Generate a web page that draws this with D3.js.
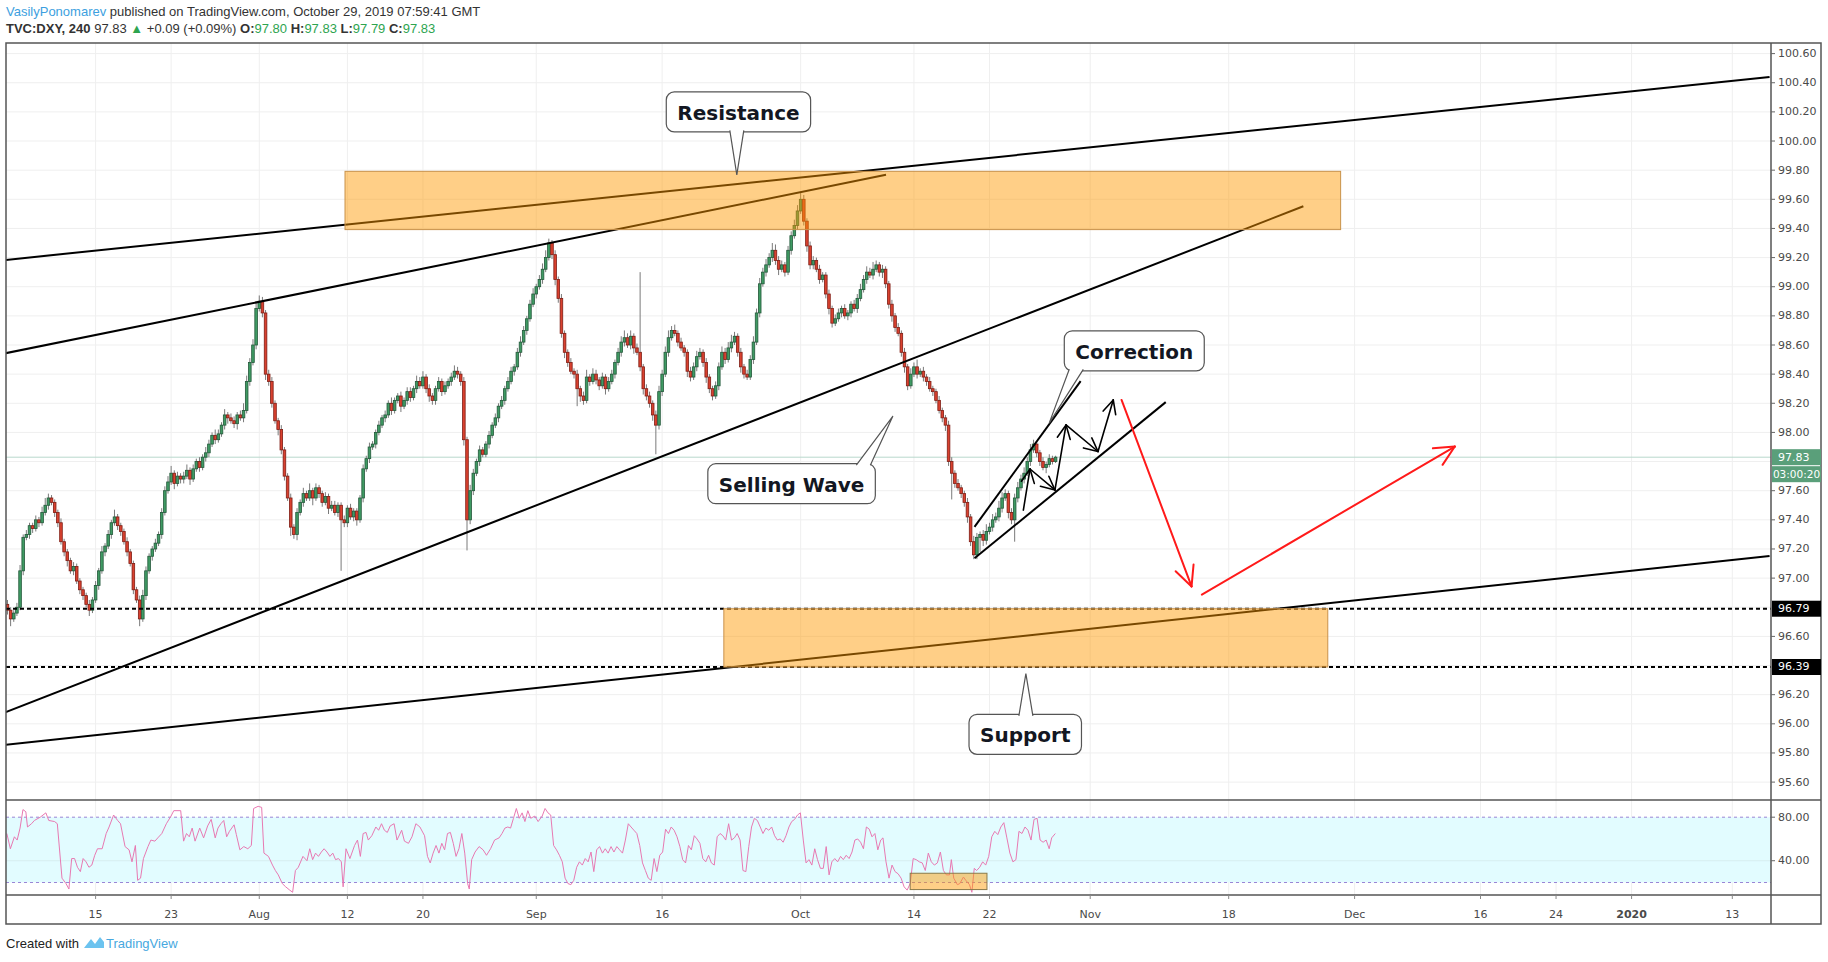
<!DOCTYPE html>
<html><head><meta charset="utf-8">
<script src="https://cdn.jsdelivr.net/npm/d3@7"></script>
<style>
html,body{margin:0;padding:0;background:#fff;}
svg{display:block;}
</style></head><body>
<svg id="c" width="1828" height="962"></svg>
<script>
// ---------------- DATA ----------------
const dayStart = -7;          // first bar: Jul 4 2019 (weekday index relative to Jul 15 2019)
const barsPerDay = 4;
const firstOpen = 96.82;
const closes = [
96.78,96.72,96.76,96.80, 97.05,97.28,97.30,97.36, 97.34,97.40,97.38,97.45, 97.50,97.55,97.52,97.45,
97.38,97.25,97.18,97.12, 97.05,97.08,96.98,96.92, 96.88,96.82,96.78,96.85,
96.95,97.05,97.18,97.22, 97.30,97.38,97.42,97.36, 97.32,97.25,97.18,97.10, 96.92,96.85,96.72,96.88, 97.05,97.15,97.20,97.24,
97.30,97.45,97.60,97.66, 97.72,97.65,97.70,97.68, 97.70,97.74,97.68,97.75, 97.80,97.76,97.83,97.86, 97.92,97.98,97.95,97.99,
98.05,98.12,98.10,98.08, 98.06,98.12,98.10,98.15, 98.35,98.48,98.60,98.85, 98.90,98.82,98.40,98.35, 98.20,98.08,98.02,97.88,
97.70,97.55,97.35,97.30, 97.45,97.52,97.58,97.55, 97.60,97.55,97.62,97.58, 97.52,97.56,97.48,97.50, 97.45,97.50,97.40,97.38,
97.48,97.42,97.46,97.40, 97.55,97.75,97.82,97.90, 97.92,98.00,98.05,98.10, 98.12,98.20,98.15,98.22, 98.25,98.18,98.22,98.28,
98.24,98.30,98.35,98.32, 98.38,98.30,98.25,98.22, 98.30,98.35,98.28,98.32, 98.35,98.38,98.42,98.40, 98.35,97.95,97.40,97.60,
97.72,97.80,97.88,97.85, 97.92,97.98,98.05,98.10, 98.18,98.22,98.30,98.35, 98.42,98.45,98.55,98.62, 98.70,98.78,98.88,98.95,
99.00,99.05,99.12,99.20, 99.30,99.22,99.05,98.92, 98.68,98.55,98.48,98.42, 98.40,98.30,98.25,98.22, 98.38,98.35,98.40,98.36,
98.32,98.38,98.30,98.35, 98.40,98.48,98.55,98.62, 98.65,98.60,98.66,98.58, 98.55,98.45,98.30,98.25, 98.20,98.12,98.05,98.28,
98.40,98.55,98.65,98.70, 98.68,98.62,98.58,98.55, 98.42,98.38,98.45,98.52, 98.55,98.48,98.38,98.30, 98.25,98.32,98.45,98.55,
98.50,98.58,98.62,98.66, 98.55,98.45,98.40,98.38, 98.50,98.62,98.82,99.02, 99.10,99.15,99.20,99.25, 99.18,99.12,99.15,99.10,
99.25,99.35,99.42,99.52, 99.60,99.45,99.28,99.15, 99.18,99.12,99.05,99.08, 98.95,98.85,98.75,98.78, 98.82,98.85,98.80,98.82,
98.88,98.85,98.92,98.98, 99.05,99.10,99.08,99.12, 99.15,99.10,99.12,99.02, 98.88,98.80,98.72,98.68, 98.55,98.45,98.32,98.40,
98.45,98.40,98.42,98.38, 98.35,98.30,98.28,98.22, 98.15,98.10,98.05,97.80, 97.72,97.65,97.62,97.58, 97.52,97.42,97.25,97.16,
97.28,97.30,97.26,97.32, 97.35,97.40,97.42,97.48, 97.55,97.58,97.45,97.40, 97.55,97.62,97.68,97.72, 97.80,97.88,97.92,97.86,
97.80,97.76,97.78,97.82, 97.80,97.83
];
// upper / lower wick extension beyond the body, in hundredths
const wickUp = [
3,2,2,3, 4,2,3,2, 2,3,2,4, 5,3,2,2, 2,3,2,2, 2,3,2,2, 2,2,3,2,
3,2,4,2, 3,2,5,2, 2,2,3,2, 2,2,3,4, 3,2,2,3,
2,3,3,4, 5,2,3,2, 3,4,2,3, 2,3,2,4, 3,2,4,3,
2,4,2,3, 3,2,3,5, 4,3,4,5, 4,3,2,3, 3,2,2,3,
2,2,3,2, 3,2,4,2, 5,2,3,2, 2,3,2,3, 3,2,2,3,
2,3,2,2, 2,3,2,3, 2,2,3,2, 3,2,4,2, 2,3,2,3,
3,2,4,3, 4,2,3,2, 2,3,2,3, 2,3,4,3, 2,3,2,4,
3,2,3,2, 2,3,2,3, 2,3,2,3, 3,2,3,4, 3,2,3,4,
2,3,4,5, 3,2,3,2, 3,2,2,3, 2,3,2,3, 5,2,4,3,
2,3,2,3, 3,2,3,4, 5,3,4,2, 3,55,2,3, 3,2,3,4,
3,4,5,3, 4,2,3,2, 2,3,3,4, 3,2,3,2, 2,3,3,4,
3,4,5,3, 2,3,2,3, 3,4,3,4, 3,4,3,5, 4,3,3,2,
3,3,4,4, 5,3,2,3, 3,2,3,2, 2,3,2,3, 3,2,3,2,
2,3,3,4, 3,4,3,5, 3,2,3,2, 2,3,2,3, 2,3,2,4,
3,5,2,3, 2,3,2,2, 3,2,2,3, 3,2,3,2, 2,3,2,4,
3,2,3,5, 3,4,3,5, 4,3,2,3, 3,4,3,4, 3,4,3,2,
2,3,2,3, 2,1
];
const wickDown = [
3,5,2,2, 2,3,2,3, 3,2,3,2, 2,3,2,3, 3,2,3,4, 2,3,2,3, 3,2,4,2,
2,3,2,3, 2,3,2,3, 3,2,3,2, 3,2,5,2, 3,2,3,2,
2,3,2,2, 2,4,2,3, 3,2,4,2, 2,3,2,3, 3,2,3,2,
2,3,4,2, 3,4,2,3, 2,3,2,3, 2,3,4,3, 3,2,4,3,
3,2,6,3, 4,2,3,2, 2,5,2,3, 3,2,4,2, 2,3,35,3,
3,2,3,4, 2,3,2,3, 2,3,2,2, 3,2,3,2, 2,4,2,3,
3,2,3,2, 2,3,4,3, 3,2,3,2, 2,3,2,3, 3,4,21,3,
3,2,3,2, 2,3,2,2, 3,2,3,2, 2,3,2,3, 2,3,2,2,
3,2,3,2, 2,3,4,3, 3,4,3,2, 3,12,4,3, 2,3,2,3,
3,2,4,2, 2,3,2,3, 3,2,3,4, 2,3,4,3, 3,4,20,3,
3,2,3,2, 2,3,2,3, 4,3,2,3, 2,3,4,3, 3,2,3,2,
3,2,3,2, 3,4,3,2, 2,3,2,3, 2,3,2,3, 3,4,2,3,
2,3,2,3, 2,3,4,3, 3,2,3,2, 3,4,3,2, 2,3,2,3,
3,2,3,2, 2,3,2,3, 2,3,4,3, 3,4,3,2, 3,4,3,2,
2,3,2,3, 3,2,3,2, 2,3,4,3, 18,3,2,3, 3,4,3,3,
3,10,4,3, 2,3,2,3, 3,2,4,3, 15,3,2,3, 2,3,2,3,
3,2,4,2, 2,1
];
// RSI(14): [weekday index, value]
const rsiPoints = [
[-7.05,65],[-6.77,51],[-6.45,62],[-6.23,59],[-6.00,70],[-5.77,87],[-5.54,85],[-5.41,71],[-5.09,74],[-4.86,77],
[-4.40,80],[-3.95,84],[-3.72,77],[-3.26,76],[-3.04,74],[-2.67,24],[-2.35,19],[-2.12,14],[-1.90,42],[-1.67,42],
[-1.44,34],[-1.21,30],[-0.99,42],[-0.76,39],[-0.53,34],[-0.30,36],[-0.07,45],[0.15,51],[0.52,51],[0.84,65],
[1.07,71],[1.43,82],[1.75,77],[1.98,74],[2.34,53],[2.66,50],[2.89,39],[3.16,54],[3.34,22],[3.57,24],
[3.80,42],[4.16,53],[4.39,59],[4.71,58],[4.94,61],[5.26,65],[5.62,74],[5.99,81],[6.21,86],[6.76,86],
[6.99,58],[7.22,65],[7.44,62],[7.67,70],[7.90,58],[8.27,70],[8.58,61],[8.90,72],[9.18,78],[9.50,61],
[9.72,70],[9.95,74],[10.18,77],[10.41,62],[10.63,67],[11.00,73],[11.18,64],[11.46,50],[11.77,53],[12.09,51],
[12.37,54],[12.55,88],[12.91,90],[13.19,89],[13.37,47],[13.73,44],[14.05,36],[14.28,31],[14.51,27],[14.83,19],
[15.10,16],[15.42,13],[15.65,11],[15.87,31],[16.10,34],[16.47,44],[16.79,40],[17.01,51],[17.24,41],[17.47,47],
[17.70,44],[17.93,48],[18.15,51],[18.38,48],[18.61,44],[18.84,47],[19.06,41],[19.29,42],[19.52,39],[19.66,16],
[19.89,51],[20.20,42],[20.57,54],[20.80,59],[21.03,44],[21.25,65],[21.48,66],[21.66,59],[21.94,63],[22.26,71],
[22.48,68],[22.71,74],[22.94,68],[23.17,66],[23.40,72],[23.71,74],[23.94,59],[24.31,68],[24.53,58],[24.85,56],
[25.13,62],[25.44,74],[25.76,71],[26.13,63],[26.36,44],[26.58,38],[26.81,47],[27.04,54],[27.27,47],[27.50,56],
[27.72,50],[27.95,65],[28.18,66],[28.41,56],[28.63,44],[28.86,51],[29.09,65],[29.32,47],[29.55,19],[29.68,14],
[29.87,41],[30.14,48],[30.46,53],[30.78,50],[31.05,45],[31.37,51],[31.69,59],[32.05,61],[32.28,65],[32.51,70],
[32.74,71],[32.96,70],[33.19,79],[33.42,88],[33.65,79],[33.88,84],[34.10,76],[34.33,86],[34.56,79],[34.88,81],
[35.15,76],[35.47,81],[35.70,88],[35.93,84],[36.15,82],[36.38,54],[36.61,50],[36.84,45],[37.07,39],[37.29,24],
[37.52,19],[37.75,18],[37.98,22],[38.21,34],[38.43,39],[38.66,36],[38.89,42],[39.12,39],[39.35,48],[39.57,30],
[39.80,50],[40.03,53],[40.26,47],[40.48,51],[40.71,47],[40.94,53],[41.17,48],[41.40,53],[41.62,50],[41.85,47],
[42.08,59],[42.31,74],[42.53,71],[42.76,68],[42.99,65],[43.22,54],[43.44,38],[43.67,31],[43.90,24],[44.13,22],
[44.36,42],[44.58,30],[44.81,45],[45.04,48],[45.27,69],[45.50,65],[45.72,71],[45.95,68],[46.18,62],[46.41,53],
[46.63,41],[46.86,38],[47.09,54],[47.32,50],[47.55,63],[47.77,60],[48.00,56],[48.23,42],[48.46,39],[48.69,45],
[48.91,38],[49.14,36],[49.37,62],[49.60,65],[49.82,63],[50.05,59],[50.28,74],[50.51,59],[50.74,61],[50.96,65],
[51.19,59],[51.42,31],[51.65,30],[51.88,53],[52.10,71],[52.33,79],[52.56,77],[52.79,71],[53.01,65],[53.24,70],
[53.47,68],[53.70,71],[53.93,63],[54.15,59],[54.38,60],[54.61,57],[54.84,63],[55.07,71],[55.29,76],[55.52,78],
[55.75,82],[55.98,84],[56.21,59],[56.43,38],[56.66,41],[56.89,36],[57.12,51],[57.34,41],[57.57,33],[57.80,33],
[58.03,53],[58.26,27],[58.48,39],[58.71,42],[58.94,39],[59.17,44],[59.39,41],[59.62,45],[59.85,42],[60.08,48],
[60.31,59],[60.53,60],[60.76,57],[60.99,51],[61.22,71],[61.45,69],[61.67,62],[61.90,65],[62.13,50],[62.36,59],
[62.54,61],[62.78,39],[63.02,24],[63.26,36],[63.50,30],[63.74,28],[63.98,24],[64.22,16],[64.46,13],[64.70,19],
[64.94,42],[65.18,41],[65.42,39],[65.66,38],[65.90,31],[66.14,47],[66.38,39],[66.62,36],[66.86,38],[67.10,48],
[67.34,31],[67.58,27],[67.82,27],[67.97,41],[68.16,24],[68.45,18],[68.64,19],[68.93,25],[69.12,22],[69.41,18],
[69.60,11],[69.79,33],[69.98,31],[70.22,34],[70.46,39],[70.70,36],[70.94,44],[71.18,62],[71.42,67],[71.66,64],
[71.90,71],[72.14,75],[72.38,61],[72.62,47],[72.86,39],[73.10,41],[73.34,67],[73.58,65],[73.82,71],[74.06,68],
[74.30,59],[74.54,78],[74.78,79],[75.02,59],[75.26,57],[75.50,59],[75.74,51],[75.94,61],[76.23,65]
];
const lastPrice = 97.83;
const countdown = "03:00:20";
const priceTicks = [100.6,100.4,100.2,100.0,99.8,99.6,99.4,99.2,99.0,98.8,98.6,98.4,98.2,98.0,97.6,97.4,97.2,97.0,96.6,96.2,96.0,95.8,95.6];
const gridPrices = [100.6,100.4,100.2,100.0,99.8,99.6,99.4,99.2,99.0,98.8,98.6,98.4,98.2,98.0,97.8,97.6,97.4,97.2,97.0,96.8,96.6,96.4,96.2,96.0,95.8,95.6];
const levelLines = [96.79, 96.39];
const tickDates = ["2019-07-15","2019-07-23","2019-08-01","2019-08-12","2019-08-20","2019-09-02","2019-09-16","2019-10-01","2019-10-14","2019-10-22","2019-11-01","2019-11-18","2019-12-02","2019-12-16","2019-12-24","2020-01-01","2020-01-13"];
const tickLabels = ["15","23","Aug","12","20","Sep","16","Oct","14","22","Nov","18","Dec","16","24","2020","13"];
const rsiTicks = [80, 40];
const rsiBand = [20, 80];

// drawings in (weekday index, price)
const trendLines = [
  [[-7.13, 99.184],[132.96,100.44]],
  [[-7.13, 98.544],[62.78, 99.768]],
  [[-7.13, 96.08],[95.93, 99.552]],
  [[-7.13, 95.856],[132.96, 97.152]],
  [[69.81, 97.352],[78.24, 98.352]],
  [[69.81, 97.136],[85.0, 98.208]]
];
const zones = [
  {d0:19.81, d1:98.89, p0:99.392, p1:99.792},
  {d0:49.9,  d1:97.87, p0:96.39,  p1:96.79}
];
const blackArrows = [
  [[73.69,97.467],[74.22,97.749]],
  [[74.22,97.749],[76.20,97.605]],
  [[76.20,97.605],[77.08,98.051]],
  [[77.08,98.051],[79.62,97.869]],
  [[79.62,97.869],[80.83,98.223]]
];
const redArrows = [
  [[81.49,98.223],[87.05,96.943]],
  [[87.87,96.887],[107.96,97.903]]
];
const callouts = [
  {text:"Resistance",   cd:51.06, cp:100.2,  td:50.93, tp:99.768},
  {text:"Correction",   cd:82.5,  cp:98.56,  td:75.74, tp:98.064},
  {text:"Selling Wave", cd:55.28, cp:97.648, td:63.33, tp:98.112},
  {text:"Support",      cd:73.84, cp:95.928, td:73.89, tp:96.344}
];
const rsiZone = {d0:64.7, d1:70.8, r0:13.5, r1:28.5};

// ---------------- LAYOUT ----------------
const paneL = 6, paneR = 1771, mainT = 43, mainB = 800, rsiB = 895, axisB = 924, outerR = 1821;
const svg = d3.select("#c");
const x = d3.scaleLinear().domain([0,130]).range([95.6,1732.3]);
const y = d3.scaleLinear().domain([95.6,100.6]).range([782.1,53.6]);
const yR = d3.scaleLinear().domain([20,80]).range([882.5,817.2]);

function wdIndex(s){
  const d = Date.parse(s+"T00:00:00Z"), base = Date.UTC(2019,6,15);
  const days = Math.round((d-base)/864e5), w = Math.floor(days/7), r = days - w*7;
  return w*5 + Math.min(r,5);
}

const defs = svg.append("defs");
defs.append("clipPath").attr("id","cm").append("rect").attr("x",paneL).attr("y",mainT).attr("width",paneR-paneL).attr("height",mainB-mainT);
defs.append("clipPath").attr("id","cr").append("rect").attr("x",paneL).attr("y",mainB).attr("width",paneR-paneL).attr("height",rsiB-mainB);

// grid
const grid = svg.append("g");
grid.selectAll(".hg").data(gridPrices).enter().append("line")
  .attr("x1",paneL).attr("x2",paneR).attr("y1",d=>y(d)).attr("y2",d=>y(d))
  .attr("stroke","#efefef").attr("stroke-width",1);
tickDates.forEach(d=>{
  const xx = x(wdIndex(d));
  grid.append("line").attr("x1",xx).attr("x2",xx).attr("y1",mainT).attr("y2",rsiB).attr("stroke","#efefef");
});

// RSI background
const gR = svg.append("g").attr("clip-path","url(#cr)");
gR.append("rect").attr("x",paneL).attr("width",paneR-paneL).attr("y",yR(rsiBand[1])).attr("height",yR(rsiBand[0])-yR(rsiBand[1])).attr("fill","#e2fcff");
gR.append("line").attr("x1",paneL).attr("x2",paneR).attr("y1",yR(40)).attr("y2",yR(40)).attr("stroke","#d6eef0");
rsiBand.forEach(v=>{
  gR.append("line").attr("x1",paneL).attr("x2",paneR).attr("y1",yR(v)).attr("y2",yR(v))
    .attr("stroke","#9a86d6").attr("stroke-dasharray","3,3").attr("stroke-width",1);
});

// candles
const bars = closes.map((c,i)=>{
  const o = i===0 ? firstOpen : closes[i-1];
  const t = dayStart + Math.floor(i/barsPerDay) + (i%barsPerDay)/barsPerDay;
  return {t, o, c, h: Math.max(o,c)+wickUp[i]/100, l: Math.min(o,c)-wickDown[i]/100};
});
const gM = svg.append("g").attr("clip-path","url(#cm)");
gM.append("line").attr("x1",paneL).attr("x2",paneR).attr("y1",y(lastPrice)).attr("y2",y(lastPrice)).attr("stroke","#b9d8cc").attr("stroke-width",1);
const gc = gM.append("g");
gc.selectAll(".w").data(bars).enter().append("line")
  .attr("x1",d=>x(d.t)).attr("x2",d=>x(d.t)).attr("y1",d=>y(d.h)).attr("y2",d=>y(d.l))
  .attr("stroke","#7a7a7a").attr("stroke-width",1);
gc.selectAll(".b").data(bars).enter().append("rect")
  .attr("x",d=>x(d.t)-1.3).attr("width",2.6)
  .attr("y",d=>y(Math.max(d.o,d.c)))
  .attr("height",d=>Math.max(1,Math.abs(y(d.o)-y(d.c))))
  .attr("fill",d=>d.c>=d.o?"#3f9a63":"#d9412f")
  .attr("stroke",d=>d.c>=d.o?"#23583a":"#7e1d14").attr("stroke-width",0.8);

const line = d3.line().x(d=>x(d[0])).y(d=>y(d[1]));
gM.selectAll(".tl").data(trendLines).enter().append("path").attr("d",line)
  .attr("stroke","#000").attr("stroke-width",2).attr("fill","none");
levelLines.forEach(v=>{
  gM.append("line").attr("x1",paneL).attr("x2",paneR).attr("y1",y(v)).attr("y2",y(v))
    .attr("stroke","#000").attr("stroke-width",2).attr("stroke-dasharray","4,3");
});
gM.selectAll(".z").data(zones).enter().append("rect")
  .attr("x",d=>x(d.d0)).attr("width",d=>x(d.d1)-x(d.d0))
  .attr("y",d=>y(d.p1)).attr("height",d=>y(d.p0)-y(d.p1))
  .attr("fill","rgba(255,152,0,0.47)").attr("stroke","#c9924a").attr("stroke-width",1);

function arrow(g, seg, color, w, len, ang){
  const x0=x(seg[0][0]), y0=y(seg[0][1]), x1=x(seg[1][0]), y1=y(seg[1][1]);
  g.append("line").attr("x1",x0).attr("y1",y0).attr("x2",x1).attr("y2",y1).attr("stroke",color).attr("stroke-width",w).attr("stroke-linecap","round");
  const a = Math.atan2(y1-y0, x1-x0);
  [ang,-ang].forEach(s=>{
    g.append("line").attr("x1",x1).attr("y1",y1)
      .attr("x2",x1-len*Math.cos(a+s)).attr("y2",y1-len*Math.sin(a+s))
      .attr("stroke",color).attr("stroke-width",w).attr("stroke-linecap","round");
  });
}
blackArrows.forEach(s=>arrow(gM,s,"#000",1.6,15,0.45));
redArrows.forEach(s=>arrow(gM,s,"#ff1a1a",2,22,0.45));

callouts.forEach(c=>{
  const g = gM.append("g");
  const cx = x(c.cd), cy = y(c.cp), tx = x(c.td), ty = y(c.tp);
  const txt = g.append("text").attr("font-family","DejaVu Sans, Verdana, sans-serif").attr("font-weight","bold")
    .attr("font-size",20).attr("fill","#131722").attr("text-anchor","middle").attr("dominant-baseline","central")
    .attr("x",cx).attr("y",cy+1).text(c.text);
  const tw = txt.node().getComputedTextLength();
  const w = tw+22, h = 40, bx = cx-w/2, by = cy-h/2;
  g.insert("rect","text").attr("x",bx).attr("y",by).attr("width",w).attr("height",h).attr("rx",8)
    .attr("fill","#fff").attr("stroke","#555").attr("stroke-width",1.2);
  const ey = ty > by+h ? by+h-1.5 : by+1.5;
  const bc = Math.max(bx+12, Math.min(bx+w-12, tx));
  g.insert("path","text").attr("d",`M${bc-7},${ey} L${tx},${ty} L${bc+7},${ey}`)
    .attr("fill","#fff").attr("stroke","#555").attr("stroke-width",1.2);
});

// RSI line
gR.append("path").datum(rsiPoints).attr("d",d3.line().x(d=>x(d[0])).y(d=>yR(d[1])))
  .attr("fill","none").attr("stroke","#e879b2").attr("stroke-width",1);
gR.append("rect").attr("x",x(rsiZone.d0)).attr("width",x(rsiZone.d1)-x(rsiZone.d0))
  .attr("y",yR(rsiZone.r1)).attr("height",yR(rsiZone.r0)-yR(rsiZone.r1))
  .attr("fill","rgba(255,152,0,0.47)").attr("stroke","#8a7a4a").attr("stroke-width",1);

// frame
const fr = svg.append("g").attr("stroke","#555").attr("stroke-width",1.5).attr("fill","none");
fr.append("rect").attr("x",paneL).attr("y",mainT).attr("width",outerR-paneL).attr("height",axisB-mainT);
fr.append("line").attr("x1",paneR).attr("x2",paneR).attr("y1",mainT).attr("y2",axisB);
fr.append("line").attr("x1",paneL).attr("x2",outerR).attr("y1",mainB).attr("y2",mainB);
fr.append("line").attr("x1",paneL).attr("x2",outerR).attr("y1",rsiB).attr("y2",rsiB);

// price axis
const ax = svg.append("g").attr("font-family","DejaVu Sans, sans-serif").attr("font-size",11).attr("fill","#4a4a4a");
priceTicks.forEach(v=>{
  ax.append("line").attr("x1",paneR).attr("x2",paneR+4).attr("y1",y(v)).attr("y2",y(v)).attr("stroke","#666");
  ax.append("text").attr("x",paneR+7).attr("y",y(v)).attr("dominant-baseline","central").text(v.toFixed(2));
});
rsiTicks.forEach(v=>{
  ax.append("line").attr("x1",paneR).attr("x2",paneR+4).attr("y1",yR(v)).attr("y2",yR(v)).attr("stroke","#666");
  ax.append("text").attr("x",paneR+7).attr("y",yR(v)).attr("dominant-baseline","central").text(v.toFixed(2));
});
levelLines.forEach(v=>{
  ax.append("rect").attr("x",paneR+1).attr("y",y(v)-8).attr("width",49).attr("height",16).attr("fill","#000");
  ax.append("text").attr("x",paneR+7).attr("y",y(v)).attr("dominant-baseline","central").attr("fill","#fff").text(v.toFixed(2));
});
ax.append("rect").attr("x",paneR+1).attr("y",y(lastPrice)-8).attr("width",49).attr("height",16).attr("fill","#5a9f7a");
ax.append("text").attr("x",paneR+7).attr("y",y(lastPrice)).attr("dominant-baseline","central").attr("fill","#fff").text(lastPrice.toFixed(2));
ax.append("rect").attr("x",paneR+1).attr("y",y(lastPrice)+9).attr("width",49).attr("height",16).attr("fill","#5a9f7a");
ax.append("text").attr("x",paneR+25.5).attr("y",y(lastPrice)+17).attr("text-anchor","middle").attr("font-size",10.5)
  .attr("dominant-baseline","central").attr("fill","#fff").text(countdown);

// time axis
tickDates.forEach((d,i)=>{
  const xx = x(wdIndex(d));
  ax.append("line").attr("x1",xx).attr("x2",xx).attr("y1",rsiB).attr("y2",rsiB+4).attr("stroke","#888");
  ax.append("text").attr("x",xx).attr("y",914).attr("text-anchor","middle").attr("dominant-baseline","central")
    .attr("font-weight", tickLabels[i]==="2020"?"bold":"normal").text(tickLabels[i]);
});

// header
const hd = svg.append("g").attr("font-family","Liberation Sans, Arial, sans-serif").attr("font-size",13).attr("fill","#333");
const t1 = hd.append("text").attr("x",6).attr("y",16);
t1.append("tspan").attr("fill","#3d9fe0").text("VasilyPonomarev");
t1.append("tspan").text(" published on TradingView.com, October 29, 2019 07:59:41 GMT");
const t2 = hd.append("text").attr("x",6).attr("y",33);
t2.append("tspan").attr("font-weight","bold").text("TVC:DXY, 240");
t2.append("tspan").text(" 97.83 ");
t2.append("tspan").attr("fill","#2ea44f").text("▲");
t2.append("tspan").text(" +0.09 (+0.09%)");
[["O:","97.80"],["H:","97.83"],["L:","97.79"],["C:","97.83"]].forEach(p=>{
  t2.append("tspan").attr("font-weight","bold").text(" "+p[0]);
  t2.append("tspan").attr("fill","#2ea44f").text(p[1]);
});

// footer
const ft = svg.append("g").attr("font-family","Liberation Sans, Arial, sans-serif").attr("font-size",13);
ft.append("text").attr("x",6).attr("y",948).attr("fill","#222").text("Created with");
ft.append("path").attr("d","M84,948 L91,939 L95,944 L100,937 L104,942 L104,948 Z").attr("fill","#6cc3ef");
ft.append("text").attr("x",106).attr("y",948).attr("fill","#47a8e0").text("TradingView");
</script></body></html>
